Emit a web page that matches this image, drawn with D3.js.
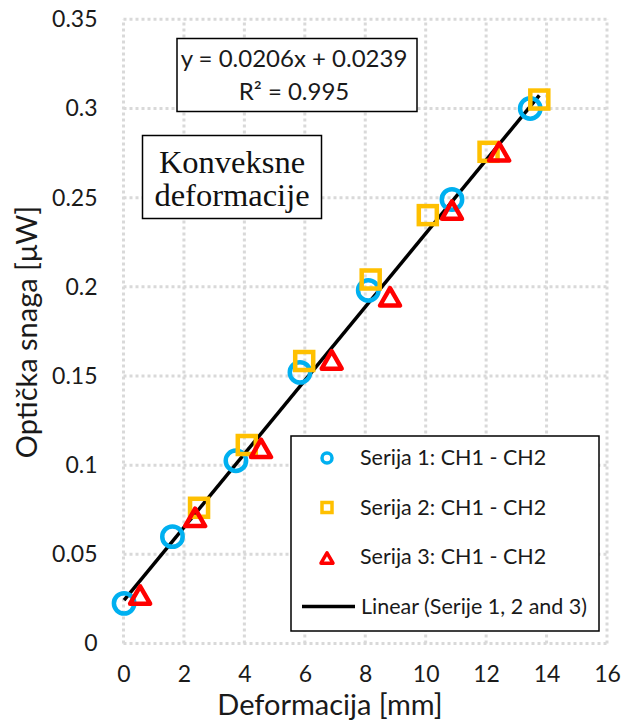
<!DOCTYPE html>
<html><head><meta charset="utf-8">
<script src="https://cdn.jsdelivr.net/npm/d3@7"></script>
<style>body{margin:0;background:#fff}svg{display:block}</style>
</head><body>
<script>
const xTicks = [0,2,4,6,8,10,12,14,16];
const yTicks = [0,0.05,0.1,0.15,0.2,0.25,0.3,0.35];
const yTickLabels = ["0","0.05","0.1","0.15","0.2","0.25","0.3","0.35"];
const s1x = [0.02,1.62,3.72,5.84,8.1,10.87,13.46];
const s1y = [0.0225,0.0599,0.1025,0.152,0.198,0.249,0.300];
const s2x = [2.5,4.08,5.98,8.18,10.07,12.08,13.76];
const s2y = [0.0761,0.1113,0.1584,0.2041,0.2402,0.2757,0.305];
const s3x = [0.55,2.37,4.55,6.89,8.82,10.87,12.43];
const s3y = [0.0272,0.0707,0.1094,0.159,0.1944,0.243,0.2757];
const seriesNames = ["Serija 1: CH1 - CH2","Serija 2: CH1 - CH2","Serija 3: CH1 - CH2","Linear (Serije 1, 2 and 3)"];
const slope = 0.0206, intercept = 0.0239;
const eqText = ["y = 0.0206x + 0.0239","R² = 0.995"];
const noteText = ["Konveksne","deformacije"];

const W=622,H=722;
const svg=d3.select("body").append("svg").attr("width",W).attr("height",H);
const x=d3.scaleLinear().domain([0,16]).range([123.5,607]);
const y=d3.scaleLinear().domain([0,0.35]).range([643.5,19.3]);
const font="Lato, 'Open Sans', sans-serif";
const serif="'Liberation Serif', 'DejaVu Serif', serif";
const grid="#d9d9d9";
const txt="#1a1a1a";

// grid
const g=svg.append("g");
g.selectAll(".vg").data(xTicks).join("line").attr("x1",d=>x(d)).attr("x2",d=>x(d))
 .attr("y1",y(0)).attr("y2",y(0.35)).attr("stroke",grid).attr("stroke-width",3).attr("stroke-dasharray","3,3");
g.selectAll(".hg").data(yTicks).join("line").attr("y1",d=>y(d)).attr("y2",d=>y(d))
 .attr("x1",x(0)).attr("x2",x(16)).attr("stroke",grid).attr("stroke-width",3).attr("stroke-dasharray","3,3");

// axes
const xAxis=d3.axisBottom(x).tickValues(xTicks).tickSize(0).tickPadding(22).tickFormat(d3.format("d"));
const xa=svg.append("g").attr("transform",`translate(0,${y(0)})`).call(xAxis);
xa.select(".domain").remove();
xa.selectAll("text").attr("font-family",font).attr("font-size",23).attr("fill",txt);
const yAxis=d3.axisLeft(y).tickValues(yTicks).tickSize(0).tickPadding(26).tickFormat((d,i)=>yTickLabels[i]);
const ya=svg.append("g").attr("transform",`translate(${x(0)},0)`).call(yAxis);
ya.select(".domain").remove();
ya.selectAll("text").attr("font-family",font).attr("font-size",23).attr("fill",txt);

svg.append("text").attr("x",330).attr("y",715).attr("text-anchor","middle")
 .attr("font-family",font).attr("font-size",29).attr("fill",txt).text("Deformacija [mm]");
svg.append("text").attr("transform",`translate(37,${332}) rotate(-90)`).attr("text-anchor","middle")
 .attr("font-family",font).attr("font-size",29).attr("fill",txt).text("Optička snaga [μW]");

// trendline
const xmin=d3.min([...s1x,...s2x,...s3x]), xmax=d3.max([...s1x,...s2x,...s3x]);
svg.append("line").attr("x1",x(xmin)).attr("y1",y(slope*xmin+intercept))
 .attr("x2",x(xmax)).attr("y2",y(slope*xmax+intercept)).attr("stroke","#000").attr("stroke-width",3.5);

// markers
const blue="#00b0f0", orange="#ffc000", red="#ff0000";
function circle(sel,cx,cy,r,sw){sel.append("circle").attr("cx",cx).attr("cy",cy).attr("r",r).attr("fill","none").attr("stroke",blue).attr("stroke-width",sw);}
function square(sel,cx,cy,s,sw){sel.append("rect").attr("x",cx-s/2).attr("y",cy-s/2).attr("width",s).attr("height",s).attr("fill","none").attr("stroke",orange).attr("stroke-width",sw);}
function tri(sel,cx,cy,s,sw){const h=s*0.87;sel.append("path").attr("d",`M${cx},${cy-h/2}L${cx+s/2},${cy+h/2}L${cx-s/2},${cy+h/2}Z`).attr("fill","none").attr("stroke",red).attr("stroke-width",sw).attr("stroke-linejoin","round");}
const mk=svg.append("g");
s1x.forEach((d,i)=>circle(mk,x(d),y(s1y[i]),10.2,4.5));
s2x.forEach((d,i)=>square(mk,x(d),y(s2y[i]),18,4.5));
s3x.forEach((d,i)=>tri(mk,x(d),y(s3y[i]),20,4.5));

// equation box
svg.append("rect").attr("x",177).attr("y",38.5).attr("width",240).attr("height",73).attr("fill","#fff").attr("stroke","#000").attr("stroke-width",1.5);
svg.append("text").attr("x",294).attr("y",67).attr("text-anchor","middle").attr("font-family",font).attr("font-size",24).attr("fill",txt).text(eqText[0]);
svg.append("text").attr("x",294).attr("y",100).attr("text-anchor","middle").attr("font-family",font).attr("font-size",24).attr("fill",txt).text(eqText[1]);

// note box
svg.append("rect").attr("x",142.5).attr("y",135.5).attr("width",179).attr("height",83).attr("fill","#fff").attr("stroke","#000").attr("stroke-width",1.5);
svg.append("text").attr("x",232).attr("y",173).attr("text-anchor","middle").attr("font-family",serif).attr("font-size",32.5).attr("fill","#111").text(noteText[0]);
svg.append("text").attr("x",232).attr("y",206).attr("text-anchor","middle").attr("font-family",serif).attr("font-size",32.5).attr("fill","#111").text(noteText[1]);

// legend
const lg=svg.append("g");
lg.append("rect").attr("x",291).attr("y",436).attr("width",308).attr("height",195).attr("fill","#fff").attr("stroke","#000").attr("stroke-width",1.5);
const rowsY=[458,507.5,557,606.5];
circle(lg,327,rowsY[0],5,3.5);
square(lg,327,rowsY[1],10,3.5);
tri(lg,327,rowsY[2]+1,12,3.5);
lg.append("line").attr("x1",302).attr("x2",355).attr("y1",rowsY[3]).attr("y2",rowsY[3]).attr("stroke","#000").attr("stroke-width",3.5);
seriesNames.forEach((n,i)=>lg.append("text").attr("x",i<3?360:361).attr("y",rowsY[i]+7).attr("font-family",font).attr("font-size",21.5).attr("fill",txt).text(n));
</script>
</body></html>
